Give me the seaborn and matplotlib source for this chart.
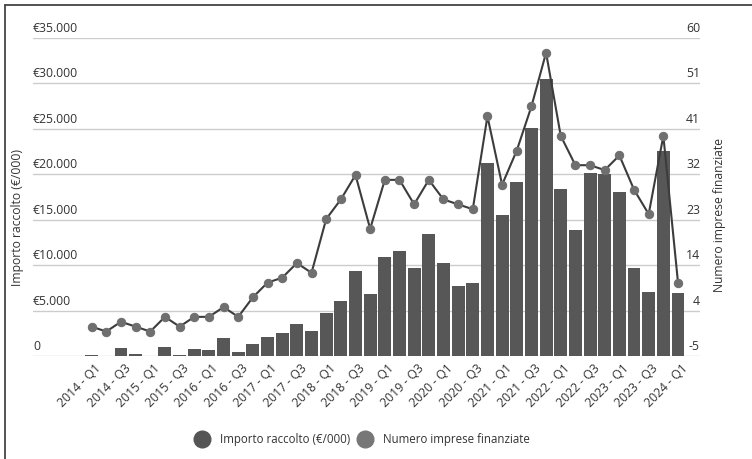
import matplotlib
matplotlib.use("Agg")
import matplotlib.pyplot as plt
import matplotlib.transforms as mtransforms
from matplotlib.lines import Line2D
import numpy as np
import pandas as pd
import seaborn as sns

# Quarterly periods 2014-Q1 .. 2024-Q1
quarters = [f"{y} - Q{q}" for y in range(2014, 2025) for q in range(1, 5)][:41]

# Amount raised per quarter (€/000)
importo = [150, 0, 850, 250, 0, 990, 100, 770, 660, 1950,
           440, 1290, 2060, 2500, 3490, 2720, 4730, 6020, 9350, 6790,
           10860, 11590, 9650, 13430, 10240, 7740, 8070, 21200, 15480, 19120,
           25130, 30520, 18340, 13870, 20100, 20000, 18050, 9650, 7080, 22600,
           6970]

# Number of companies funded per quarter
imprese = [1, 0, 2, 1, 0, 3, 1, 3, 3, 5,
           3, 7, 10, 11, 14, 12, 23, 27, 32, 21,
           31, 31, 26, 31, 27, 26, 25, 44, 30, 37,
           46, 57, 40, 34, 34, 33, 36, 29, 24, 40,
           10]

left_ticks = [0, 5000, 10000, 15000, 20000, 25000, 30000, 35000]
left_labels = ["0", "€5.000", "€10.000", "€15.000", "€20.000", "€25.000", "€30.000", "€35.000"]
right_labels = ["-5", "4", "14", "23", "32", "41", "51", "60"]

df = pd.DataFrame({"trimestre": quarters, "importo": importo,
                   "imprese": imprese, "pos": np.arange(len(quarters))})

sns.set_theme(style="white")
plt.rcParams["font.family"] = ["Open Sans", "DejaVu Sans"]

TXT = "#333333"
BAR = "#575757"
DOT = "#6f6f6f"
LINE = "#3c3c3c"
GRID = "#cccccc"
TICK_FS = 8.8

fig = plt.figure(figsize=(7.52, 4.59), dpi=100)
fig.patch.set_facecolor("white")
ax = fig.add_axes([33 / 752, 1 - 356 / 459, 667 / 752, 318 / 459])

sns.barplot(data=df, x="trimestre", y="importo", color=BAR, saturation=1,
            width=0.88, ax=ax, zorder=2)
for p in ax.patches:
    p.set_edgecolor("none")

ax.set_ylim(0, 35000)
ax.set_yticks(left_ticks)
ax.set_yticklabels(left_labels)
ax.set_xlim(-4, 41.5)
ax.grid(axis="y", color=GRID, linewidth=1)
ax.set_axisbelow(True)
for s in ax.spines.values():
    s.set_visible(False)

pos = np.arange(0, len(quarters), 2)
ax.set_xticks(pos)
ax.set_xticklabels([quarters[i] for i in pos], rotation=45, ha="right",
                   rotation_mode="anchor", fontsize=TICK_FS, color=TXT)
ax.tick_params(axis="x", length=0, pad=4)
ax.tick_params(axis="y", length=0, pad=0, labelsize=TICK_FS, labelcolor=TXT)
ax.set_xlabel("")
ax.set_ylabel("Importo raccolto (€/000)", fontsize=8.7, color=TXT)
ax.yaxis.set_label_coords(-0.0135, 0.437)

nudge = mtransforms.ScaledTranslation(3 / 100, 0, fig.dpi_scale_trans)
for t in ax.get_xticklabels():
    t.set_transform(t.get_transform() + nudge)

# y labels sit inside the plot area, just above their gridlines
lift = mtransforms.ScaledTranslation(0, 3 / 100, fig.dpi_scale_trans)
for t in ax.get_yticklabels():
    t.set_horizontalalignment("left")
    t.set_verticalalignment("bottom")
    t.set_transform(t.get_transform() + lift)

ax2 = ax.twinx()
sns.lineplot(data=df, x="pos", y="imprese", ax=ax2, color=LINE, linewidth=1.5,
             marker="o", markersize=6, markerfacecolor=DOT, markeredgecolor=DOT,
             zorder=3)
ax2.set_ylim(-5, 60)
ax2.set_yticks(np.linspace(-5, 60, 8))
ax2.set_yticklabels(right_labels)
ax2.tick_params(axis="y", length=0, pad=0, labelsize=TICK_FS, labelcolor=TXT)
for t in ax2.get_yticklabels():
    t.set_horizontalalignment("right")
    t.set_verticalalignment("bottom")
    t.set_transform(t.get_transform() + lift)
ax2.set_xlabel("")
ax2.set_ylabel("Numero imprese finanziate", fontsize=8.7, color=TXT)
ax2.yaxis.set_label_coords(1.0195, 0.443)
ax2.grid(False)
for s in ax2.spines.values():
    s.set_visible(False)
ax2.set_xlim(-4, 41.5)

handles = [
    Line2D([], [], marker="o", linestyle="none", markersize=12,
           markerfacecolor="#555555", markeredgecolor="#555555"),
    Line2D([], [], marker="o", linestyle="none", markersize=12,
           markerfacecolor="#777777", markeredgecolor="#777777"),
]
fig.legend(handles, ["Importo raccolto (€/000)", "Numero imprese finanziate"],
           loc="center", bbox_to_anchor=(360 / 752, 1 - 440 / 459), ncol=2,
           frameon=False, fontsize=8.3, labelcolor=TXT, handletextpad=0.6,
           columnspacing=0.25)

# outer frame (top and left edges)
fig.add_artist(Line2D([5 / 752, 1], [1 - 5 / 459, 1 - 5 / 459],
                      transform=fig.transFigure, color="#444444", linewidth=1.3))
fig.add_artist(Line2D([5 / 752, 5 / 752], [0, 1 - 5 / 459],
                      transform=fig.transFigure, color="#444444", linewidth=1.3))

fig.savefig("out.png", dpi=100, facecolor="white")
